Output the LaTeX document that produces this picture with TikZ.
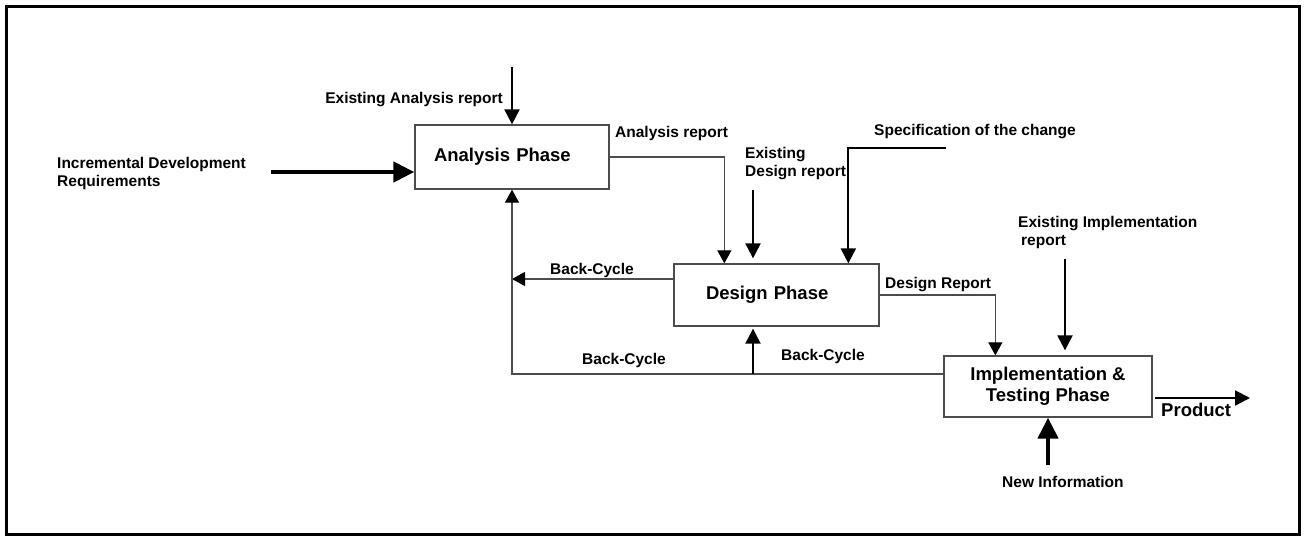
\documentclass[tikz,border=0pt]{standalone}
\usepackage{fontspec}
\setmainfont{Liberation Sans}
\usetikzlibrary{arrows.meta,positioning}

\begin{document}
\begin{tikzpicture}[x=1pt,y=-1pt,
	phase/.style={draw=black!70, line width=1.3pt, inner ysep=0pt, font=\bfseries\fontsize{18.5}{21}\selectfont},
	lbl/.style={anchor=west, inner sep=0pt, align=left, font=\bfseries\fontsize{15.5}{18}\selectfont},
	flow/.style={draw=black!70, line width=1.2pt, -{Triangle[length=13pt,width=14pt,color=black]}},
	feed/.style={line width=2.2pt, -{Triangle[length=15pt,width=15pt]}},
	heavy/.style={line width=4.5pt, -{Triangle[length=21pt,width=20pt]}}]
			\useasboundingbox (0,0) rectangle (1306,536);
			\draw[line width=3pt] (6,6) rectangle (1299,534);
			% phases
			\node[phase, minimum width=194pt, minimum height=64pt, text width=156pt, inner xsep=19pt, align=left] (analysis) at (512,157) {Analysis Phase};
			\node[phase, minimum width=205pt, minimum height=62pt, text width=141pt, inner xsep=32pt, align=left] (design) at (776.5,295) {Design Phase};
			\node[phase, minimum width=208pt, minimum height=61pt, align=center] (impl) at (1048,386.5) {Implementation \&\\Testing Phase};
			% labels
			\node[lbl, anchor=east] (ear) at (503,100) {Existing Analysis report};
			\node[lbl] (idr) at (57,173) {Incremental Development\\Requirements};
			\node[lbl] (ar) at (615,133) {Analysis report};
			\node[lbl] (edr) at (745,164) {Existing\\Design report};
			\node[lbl] (spec) at (874,132) {Specification of the change};
			\node[lbl] (eir) at (1018,232) {Existing Implementation\\\hspace*{3pt}report};
			\node[lbl] (dr) at (885,285) {Design Report};
			\node[lbl] (bca) at (550,270) {Back-Cycle};
			\node[lbl] (bcb) at (582,360) {Back-Cycle};
			\node[lbl] (bcc) at (781,356) {Back-Cycle};
			\node[lbl, font=\bfseries\fontsize{18.5}{21}\selectfont] (prod) at (1161,410) {Product};
			\node[lbl] (ni) at (1002,482) {New Information};
			% free ends
			\coordinate (ear top) at (512,67);
			\coordinate (req start) at (271,172);
			\coordinate (edr top) at (753,190);
			\coordinate (spec end) at (946,148);
			\coordinate (eir top) at (1065,259);
			\coordinate (bc turn) at (512,279);
			\coordinate (bc join) at (753,374);
			\coordinate (prod end) at (1250,398);
			\coordinate (ni start) at (1048,465);
			% connectors
			\draw[feed] (ear top) -- (analysis.north);
			\draw[heavy] (req start) -- (req start -| analysis.west);
			\draw[flow] (analysis.east) -| ([xshift=51pt]design.north west);
			\draw[feed, shorten >=5pt] (edr top) -- (edr top |- design.north);
			\draw[feed] (spec end) -| ([xshift=175pt]design.north west);
			\draw[flow] (design.east) -| ([xshift=52pt]impl.north west);
			\draw[feed, shorten >=5pt] (eir top) -- (eir top |- impl.north);
			\draw[flow] ([yshift=16pt]design.west) -- (bc turn);
			\draw[flow] ([yshift=12.5pt]impl.west) -| (analysis.south);
			\draw[feed, shorten >=2pt] (bc join) -- (bc join |- design.south);
			\draw[feed, shorten <=2pt] ([yshift=-11.5pt]impl.east) -- (prod end);
			\draw[heavy] (ni start) -- (impl.south);
		\end{tikzpicture}
\end{document}
